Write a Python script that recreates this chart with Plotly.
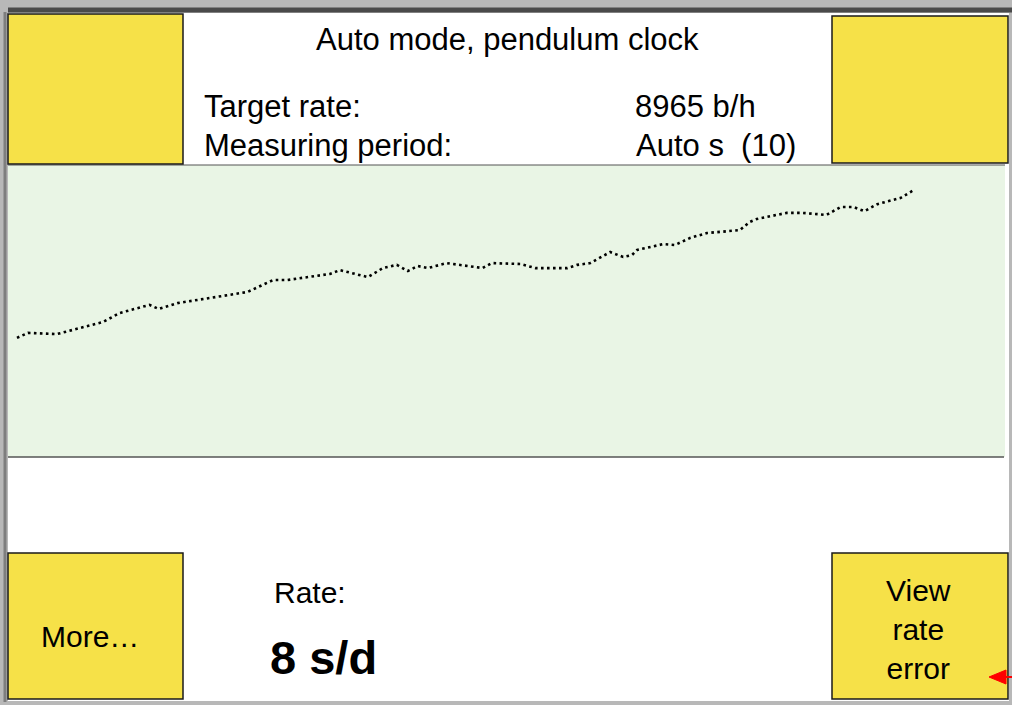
import plotly.graph_objects as go

# ---- data (time index in % of window, rate trace value in % of display range)
time_pct = [0.9, 2.0, 4.9, 6.2, 9.5, 11.2, 14.2, 15.1, 17.0, 24.0, 26.6, 28.0, 32.3, 33.3,
            36.1, 37.6, 39.0, 40.1, 41.1, 42.1, 44.0, 47.6, 48.5, 51.4, 52.9, 56.1, 57.1,
            58.4, 60.4, 61.7, 62.6, 63.1, 65.7, 66.9, 68.4, 70.1, 73.4, 74.4, 75.1, 78.1,
            79.7, 82.1, 83.5, 84.8, 85.9, 87.2, 89.5, 90.7]
rate_trace = [40.8, 42.5, 42.1, 43.2, 46.2, 49.3, 52.1, 50.7, 52.7, 56.5, 60.6, 60.6, 62.7,
              64.0, 61.6, 64.7, 65.8, 63.7, 65.4, 64.7, 66.4, 64.7, 66.4, 66.1, 64.7, 64.7,
              65.8, 66.4, 70.2, 68.5, 69.2, 70.9, 72.9, 72.6, 75.0, 76.7, 77.7, 80.5, 81.5,
              83.6, 83.6, 82.9, 85.6, 85.6, 84.2, 86.6, 88.7, 91.1]

title_text = "Auto mode, pendulum clock"
info_labels = ["Target rate:", "Measuring period:"]
info_values = ["8965 b/h", "Auto s\u00a0 (10)"]
rate_label = "Rate:"
rate_value = "8 s/d"
button_more = "More…"
button_view = "View<br>rate<br>error"

W, H = 1012, 705
FONT = "Liberation Sans, Arial, sans-serif"
YELLOW = "#F6E148"
GREEN = "#E9F5E5"
FRAME = "#b8b8b8"


def px(x):
    return x / W


def py(y):
    return 1 - y / H


fig = go.Figure()
fig.add_trace(go.Scatter(
    x=time_pct, y=rate_trace, mode="lines",
    line=dict(color="black", width=2.6, dash="2.6px,3.4px"),
    hoverinfo="skip", showlegend=False))

shapes = []


def rect(x0, y0, x1, y1, fill, lw=0, lc="black"):
    shapes.append(dict(type="rect", xref="paper", yref="paper",
                       x0=px(x0), x1=px(x1), y0=py(y1), y1=py(y0),
                       fillcolor=fill, line=dict(color=lc, width=lw)))


# gray device frame
rect(0, 0, W, 13, FRAME)
rect(0, 0, 8, H, FRAME)
rect(1009, 0, W, H, FRAME)
rect(0, 701, W, H, FRAME)
shapes.append(dict(type="line", xref="paper", yref="paper",
                   x0=px(8), x1=1, y0=py(10), y1=py(10),
                   line=dict(color="#4a4a4a", width=5)))
shapes.append(dict(type="line", xref="paper", yref="paper",
                   x0=px(5), x1=px(5), y0=py(702), y1=py(12),
                   line=dict(color="#7e7e7e", width=3)))
# plot area borders
shapes.append(dict(type="line", xref="paper", yref="paper",
                   x0=px(8), x1=px(1005), y0=py(165), y1=py(165),
                   line=dict(color="#555555", width=1.2)))
shapes.append(dict(type="line", xref="paper", yref="paper",
                   x0=px(8), x1=px(1004), y0=py(457), y1=py(457),
                   line=dict(color="#555555", width=1.5)))
# yellow buttons
for (x0, y0, x1, y1) in [(8, 14, 183, 164), (832, 16, 1008, 163),
                         (8, 553, 183, 699), (832, 553, 1008, 699)]:
    rect(x0, y0, x1, y1, YELLOW, lw=1.5, lc="#1a1a1a")
# red arrow pointer
shapes.append(dict(type="path", xref="paper", yref="paper",
                   path=(f"M {px(989)},{py(677)} L {px(1006)},{py(670)} "
                         f"L {px(1006)},{py(684)} Z"),
                   fillcolor="red", line=dict(color="red", width=1)))
shapes.append(dict(type="line", xref="paper", yref="paper",
                   x0=px(1004), x1=px(1012), y0=py(677), y1=py(677),
                   line=dict(color="red", width=2)))

annotations = []


def txt(text, x, y, size, xanchor="left", bold=False):
    annotations.append(dict(
        text=f"<b>{text}</b>" if bold else text, xref="paper", yref="paper",
        x=px(x), y=py(y), xanchor=xanchor, yanchor="middle", showarrow=False,
        font=dict(family=FONT, size=size, color="black")))


txt(title_text, 507, 40, 31, xanchor="center")
txt(info_labels[0], 202, 106, 31)
txt(info_labels[1], 202, 146, 31)
txt(info_values[0], 633, 106, 31)
txt(info_values[1], 634, 146, 31)
txt(rate_label, 272, 592, 30)
txt(rate_value, 268, 657, 47, bold=True)
txt(button_more, 90, 636, 30, xanchor="center")
annotations.append(dict(
    text=button_view, xref="paper", yref="paper", x=px(918), y=py(629),
    xanchor="center", yanchor="middle", showarrow=False, align="center",
    font=dict(family=FONT, size=30, color="black")))

fig.update_layout(
    width=W, height=H, margin=dict(l=0, r=0, t=0, b=0),
    paper_bgcolor="white", plot_bgcolor=GREEN,
    xaxis=dict(domain=[px(8), px(1005)], range=[0, 100], visible=False, fixedrange=True),
    yaxis=dict(domain=[py(457), py(165)], range=[0, 100], visible=False, fixedrange=True),
    shapes=shapes, annotations=annotations, showlegend=False,
)

fig.write_html("out.html", config={"displayModeBar": False},
               post_script="document.body.style.margin='0';document.body.style.overflow='hidden';")
